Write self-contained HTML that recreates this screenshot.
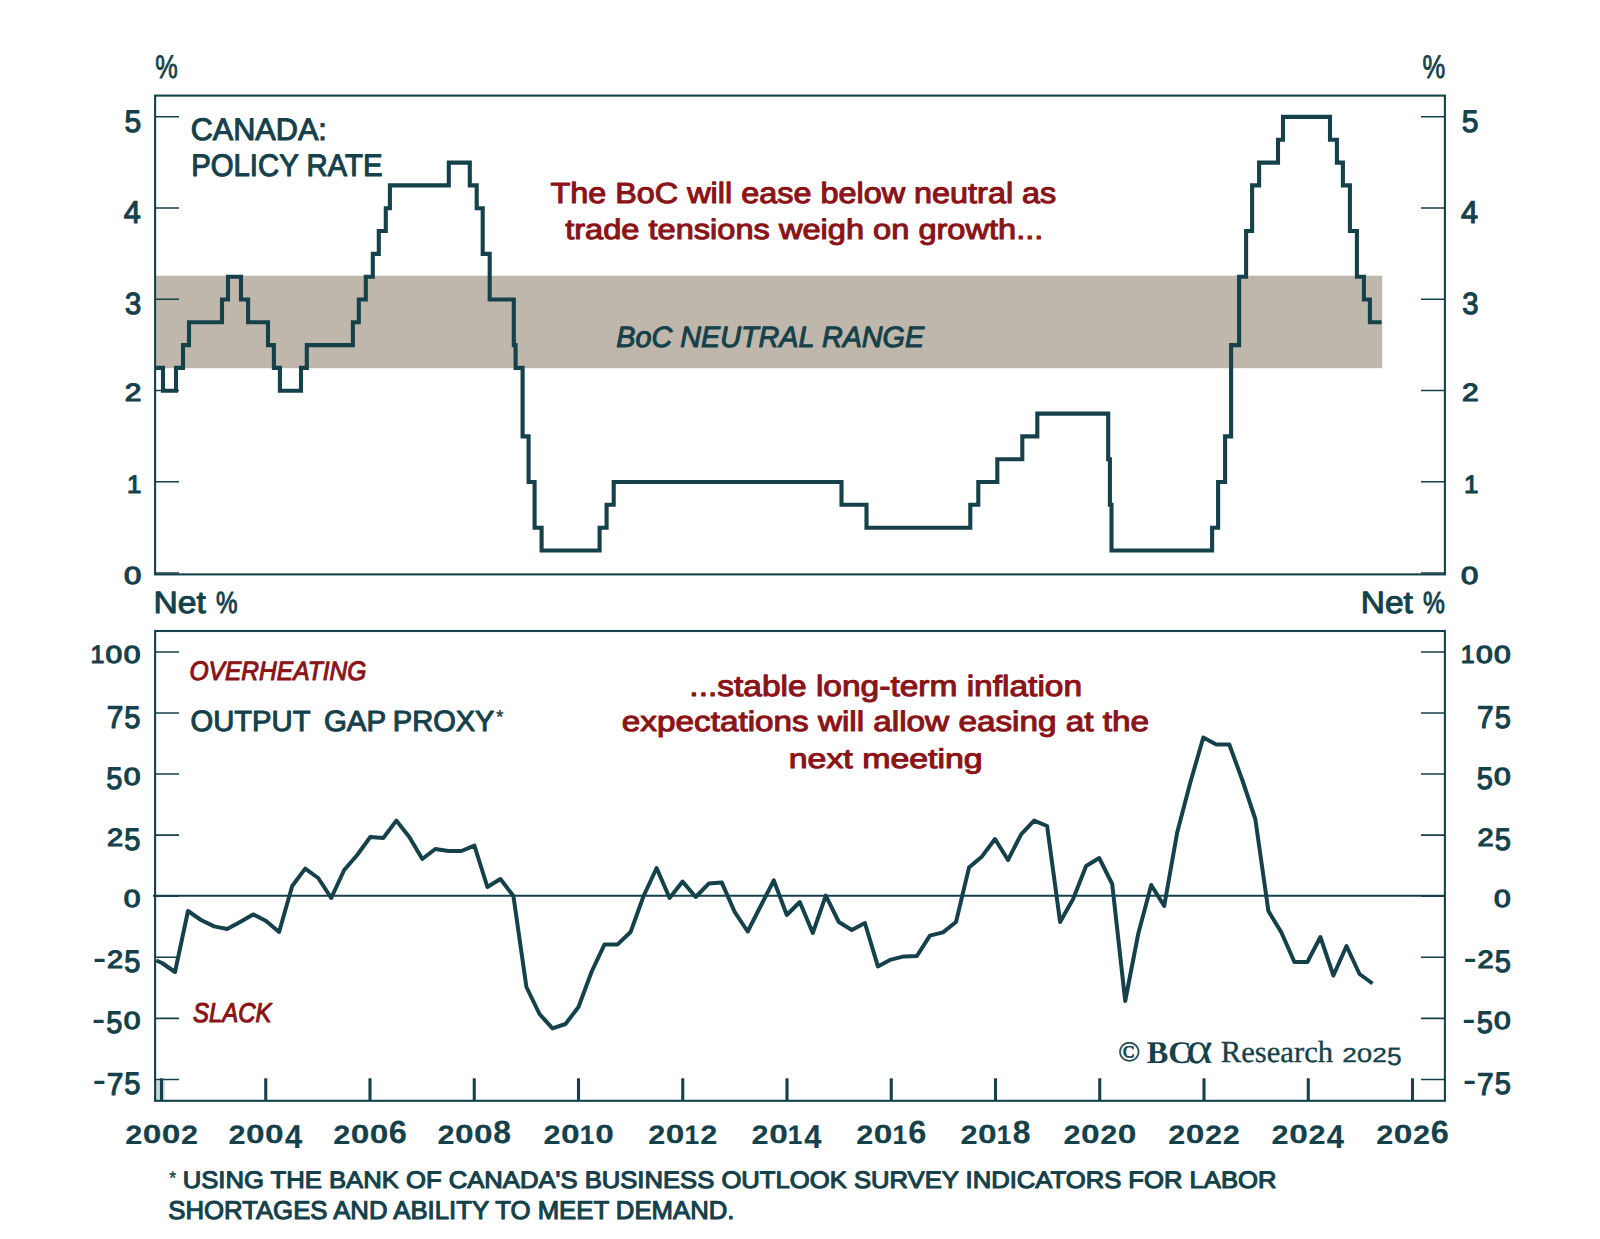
<!DOCTYPE html>
<html lang="en"><head><meta charset="utf-8"><title>Canada: Policy Rate and Output Gap Proxy</title>
<style>html,body{margin:0;padding:0;background:#fff}body{width:1600px;height:1239px;overflow:hidden;font-family:"Liberation Sans",sans-serif}svg text{font-kerning:auto;white-space:pre}</style>
</head><body>
<svg width="1600" height="1239" viewBox="0 0 1600 1239" style="display:block" text-rendering="geometricPrecision">
<rect width="1600" height="1239" fill="#ffffff"/>
<rect x="156.1" y="275.7" width="1226.1" height="92.5" fill="#bfb7ab"/>
<path d="M155.1 573.05H179.0 M1421.0 573.05H1444.9" stroke="#15414a" stroke-width="1.55" fill="none"/>
<path d="M155.1 481.78H179.0 M1421.0 481.78H1444.9" stroke="#15414a" stroke-width="1.55" fill="none"/>
<path d="M155.1 390.51H179.0 M1421.0 390.51H1444.9" stroke="#15414a" stroke-width="1.55" fill="none"/>
<path d="M155.1 299.24H179.0 M1421.0 299.24H1444.9" stroke="#15414a" stroke-width="1.55" fill="none"/>
<path d="M155.1 207.97H179.0 M1421.0 207.97H1444.9" stroke="#15414a" stroke-width="1.55" fill="none"/>
<path d="M155.1 116.70H179.0 M1421.0 116.70H1444.9" stroke="#15414a" stroke-width="1.55" fill="none"/>
<rect x="155.1" y="95.6" width="1289.8" height="478.8" fill="none" stroke="#15414a" stroke-width="2.1"/>
<path d="M156.1 367.9 L163.0 367.9 L163.0 390.8 L176.0 390.8 L176.0 367.9 L183.0 367.9 L183.0 345.1 L189.0 345.1 L189.0 322.3 L222.0 322.3 L222.0 299.5 L228.0 299.5 L228.0 276.7 L241.0 276.7 L241.0 299.5 L248.1 299.5 L248.1 322.3 L268.0 322.3 L268.0 345.1 L273.9 345.1 L273.9 367.9 L279.9 367.9 L279.9 390.8 L301.0 390.8 L301.0 367.9 L306.8 367.9 L306.8 345.1 L352.9 345.1 L352.9 322.3 L358.8 322.3 L358.8 299.5 L365.8 299.5 L365.8 276.7 L372.8 276.7 L372.8 253.9 L378.8 253.9 L378.8 231.0 L385.8 231.0 L385.8 208.2 L389.9 208.2 L389.9 185.4 L448.8 185.4 L448.8 162.6 L469.8 162.6 L469.8 185.4 L476.7 185.4 L476.7 208.2 L482.7 208.2 L482.7 253.9 L489.7 253.9 L489.7 299.5 L513.8 299.5 L513.8 345.1 L515.6 345.1 L515.6 367.9 L522.6 367.9 L522.6 436.4 L528.6 436.4 L528.6 482.0 L534.6 482.0 L534.6 527.7 L541.6 527.7 L541.6 550.5 L599.6 550.5 L599.6 527.7 L606.6 527.7 L606.6 504.8 L613.7 504.8 L613.7 482.0 L841.5 482.0 L841.5 504.8 L866.5 504.8 L866.5 527.7 L970.3 527.7 L970.3 504.8 L978.3 504.8 L978.3 482.0 L997.3 482.0 L997.3 459.2 L1022.3 459.2 L1022.3 436.4 L1037.3 436.4 L1037.3 413.6 L1108.2 413.6 L1108.2 459.2 L1109.9 459.2 L1109.9 504.8 L1111.5 504.8 L1111.5 550.5 L1212.1 550.5 L1212.1 527.7 L1218.1 527.7 L1218.1 482.0 L1225.1 482.0 L1225.1 436.4 L1231.1 436.4 L1231.1 345.1 L1239.1 345.1 L1239.1 276.7 L1246.1 276.7 L1246.1 231.0 L1252.1 231.0 L1252.1 185.4 L1259.1 185.4 L1259.1 162.6 L1278.0 162.6 L1278.0 139.8 L1283.0 139.8 L1283.0 116.9 L1330.0 116.9 L1330.0 139.8 L1336.9 139.8 L1336.9 162.6 L1342.9 162.6 L1342.9 185.4 L1349.9 185.4 L1349.9 231.0 L1356.9 231.0 L1356.9 276.7 L1363.9 276.7 L1363.9 299.5 L1369.9 299.5 L1369.9 322.3 L1381.6 322.3" fill="none" stroke="#15414a" stroke-width="4.1" stroke-linejoin="miter" stroke-linecap="butt"/>
<text font-family="'Liberation Sans', sans-serif" font-weight="normal" fill="#15414a" stroke="#15414a" stroke-width="1.15" stroke-linejoin="round"><tspan x="123.96" y="583.74" font-size="24.51" textLength="17.28" lengthAdjust="spacingAndGlyphs">0</tspan></text>
<text font-family="'Liberation Sans', sans-serif" font-weight="normal" fill="#15414a" stroke="#15414a" stroke-width="1.15" stroke-linejoin="round"><tspan x="1461.06" y="583.74" font-size="24.51" textLength="17.28" lengthAdjust="spacingAndGlyphs">0</tspan></text>
<text font-family="'Liberation Sans', sans-serif" font-weight="normal" fill="#15414a" stroke="#15414a" stroke-width="1.15" stroke-linejoin="round"><tspan x="126.91" y="492.70" font-size="25.22" textLength="14.38" lengthAdjust="spacingAndGlyphs">1</tspan></text>
<text font-family="'Liberation Sans', sans-serif" font-weight="normal" fill="#15414a" stroke="#15414a" stroke-width="1.15" stroke-linejoin="round"><tspan x="1464.01" y="492.70" font-size="25.22" textLength="14.38" lengthAdjust="spacingAndGlyphs">1</tspan></text>
<text font-family="'Liberation Sans', sans-serif" font-weight="normal" fill="#15414a" stroke="#15414a" stroke-width="1.15" stroke-linejoin="round"><tspan x="124.87" y="401.44" font-size="24.85" textLength="16.66" lengthAdjust="spacingAndGlyphs">2</tspan></text>
<text font-family="'Liberation Sans', sans-serif" font-weight="normal" fill="#15414a" stroke="#15414a" stroke-width="1.15" stroke-linejoin="round"><tspan x="1461.97" y="401.44" font-size="24.85" textLength="16.66" lengthAdjust="spacingAndGlyphs">2</tspan></text>
<text font-family="'Liberation Sans', sans-serif" font-weight="normal" fill="#15414a" stroke="#15414a" stroke-width="1.15" stroke-linejoin="round"><tspan x="125.06" y="314.21" font-size="30.65" textLength="16.25" lengthAdjust="spacingAndGlyphs">3</tspan></text>
<text font-family="'Liberation Sans', sans-serif" font-weight="normal" fill="#15414a" stroke="#15414a" stroke-width="1.15" stroke-linejoin="round"><tspan x="1462.16" y="314.21" font-size="30.65" textLength="16.25" lengthAdjust="spacingAndGlyphs">3</tspan></text>
<text font-family="'Liberation Sans', sans-serif" font-weight="normal" fill="#15414a" stroke="#15414a" stroke-width="1.15" stroke-linejoin="round"><tspan x="123.87" y="223.24" font-size="31.54" textLength="17.05" lengthAdjust="spacingAndGlyphs">4</tspan></text>
<text font-family="'Liberation Sans', sans-serif" font-weight="normal" fill="#15414a" stroke="#15414a" stroke-width="1.15" stroke-linejoin="round"><tspan x="1460.97" y="223.24" font-size="31.54" textLength="17.05" lengthAdjust="spacingAndGlyphs">4</tspan></text>
<text font-family="'Liberation Sans', sans-serif" font-weight="normal" fill="#15414a" stroke="#15414a" stroke-width="1.15" stroke-linejoin="round"><tspan x="124.57" y="131.67" font-size="31.10" textLength="16.72" lengthAdjust="spacingAndGlyphs">5</tspan></text>
<text font-family="'Liberation Sans', sans-serif" font-weight="normal" fill="#15414a" stroke="#15414a" stroke-width="1.15" stroke-linejoin="round"><tspan x="1461.67" y="131.67" font-size="31.10" textLength="16.72" lengthAdjust="spacingAndGlyphs">5</tspan></text>
<text transform="translate(155.31 78.45) scale(0.8436 1.0900)" font-family="'Liberation Sans', sans-serif" font-size="30" font-weight="normal" fill="#15414a" stroke="#15414a" stroke-width="0.72" stroke-linejoin="round">%</text>
<text transform="translate(1422.50 78.45) scale(0.8516 1.0900)" font-family="'Liberation Sans', sans-serif" font-size="30" font-weight="normal" fill="#15414a" stroke="#15414a" stroke-width="0.72" stroke-linejoin="round">%</text>
<text font-family="'Liberation Sans', sans-serif" font-weight="normal" fill="#15414a" stroke="#15414a" stroke-width="1.00" stroke-linejoin="round"><tspan x="153.41" y="613.30" font-size="31.01" textLength="52.32" lengthAdjust="spacingAndGlyphs">Net</tspan> <tspan x="215.97" y="613.30" font-size="30.57" textLength="21.53" lengthAdjust="spacingAndGlyphs">%</tspan></text>
<text font-family="'Liberation Sans', sans-serif" font-weight="normal" fill="#15414a" stroke="#15414a" stroke-width="1.00" stroke-linejoin="round"><tspan x="1360.82" y="613.30" font-size="31.01" textLength="52.11" lengthAdjust="spacingAndGlyphs">Net</tspan> <tspan x="1422.96" y="613.30" font-size="30.57" textLength="21.85" lengthAdjust="spacingAndGlyphs">%</tspan></text>
<text transform="translate(190.70 139.67) scale(1.0210 1.0375)" font-family="'Liberation Sans', sans-serif" font-size="30" font-weight="normal" fill="#15414a" stroke="#15414a" stroke-width="1.02" stroke-linejoin="round">CANADA:</text>
<text transform="translate(191.17 176.47) scale(0.9779 1.0375)" font-family="'Liberation Sans', sans-serif" font-size="30" font-weight="normal" fill="#15414a" stroke="#15414a" stroke-width="1.04" stroke-linejoin="round">POLICY RATE</text>
<text transform="translate(550.38 203.12) scale(1.0797 0.9705)" font-family="'Liberation Sans', sans-serif" font-size="30" font-weight="normal" fill="#8a1418" stroke="#8a1418" stroke-width="1.12" stroke-linejoin="round">The BoC will ease below neutral as</text>
<text transform="translate(565.18 238.93) scale(1.0861 0.9432)" font-family="'Liberation Sans', sans-serif" font-size="30" font-weight="normal" fill="#8a1418" stroke="#8a1418" stroke-width="1.13" stroke-linejoin="round">trade tensions weigh on growth...</text>
<text transform="translate(616.32 347.08) scale(0.9583 0.9775)" font-family="'Liberation Sans', sans-serif" font-size="30" font-weight="normal" font-style="italic" fill="#15414a" stroke="#15414a" stroke-width="1.08" stroke-linejoin="round">BoC NEUTRAL RANGE</text>
<rect x="156.0" y="1080.2" width="8.6" height="19.6" fill="#c6d8db"/>
<path d="M155.1 1079.42H179.0 M1421.0 1079.42H1444.9" stroke="#15414a" stroke-width="1.55" fill="none"/>
<path d="M155.1 1018.35H179.0 M1421.0 1018.35H1444.9" stroke="#15414a" stroke-width="1.55" fill="none"/>
<path d="M155.1 957.27H179.0 M1421.0 957.27H1444.9" stroke="#15414a" stroke-width="1.55" fill="none"/>
<path d="M155.1 896.20H179.0 M1421.0 896.20H1444.9" stroke="#15414a" stroke-width="1.55" fill="none"/>
<path d="M155.1 835.13H179.0 M1421.0 835.13H1444.9" stroke="#15414a" stroke-width="1.55" fill="none"/>
<path d="M155.1 774.06H179.0 M1421.0 774.06H1444.9" stroke="#15414a" stroke-width="1.55" fill="none"/>
<path d="M155.1 712.98H179.0 M1421.0 712.98H1444.9" stroke="#15414a" stroke-width="1.55" fill="none"/>
<path d="M155.1 651.91H179.0 M1421.0 651.91H1444.9" stroke="#15414a" stroke-width="1.55" fill="none"/>
<path d="M153 895.80H1444.9" stroke="#15414a" stroke-width="1.9" fill="none"/>
<path d="M161.50 1078.3V1100.8" stroke="#15414a" stroke-width="3.1" fill="none"/>
<path d="M265.75 1078.3V1100.8" stroke="#15414a" stroke-width="3.1" fill="none"/>
<path d="M370.00 1078.3V1100.8" stroke="#15414a" stroke-width="3.1" fill="none"/>
<path d="M474.25 1078.3V1100.8" stroke="#15414a" stroke-width="3.1" fill="none"/>
<path d="M578.50 1078.3V1100.8" stroke="#15414a" stroke-width="3.1" fill="none"/>
<path d="M682.75 1078.3V1100.8" stroke="#15414a" stroke-width="3.1" fill="none"/>
<path d="M787.00 1078.3V1100.8" stroke="#15414a" stroke-width="3.1" fill="none"/>
<path d="M891.25 1078.3V1100.8" stroke="#15414a" stroke-width="3.1" fill="none"/>
<path d="M995.50 1078.3V1100.8" stroke="#15414a" stroke-width="3.1" fill="none"/>
<path d="M1099.75 1078.3V1100.8" stroke="#15414a" stroke-width="3.1" fill="none"/>
<path d="M1204.00 1078.3V1100.8" stroke="#15414a" stroke-width="3.1" fill="none"/>
<path d="M1308.25 1078.3V1100.8" stroke="#15414a" stroke-width="3.1" fill="none"/>
<path d="M1412.50 1078.3V1100.8" stroke="#15414a" stroke-width="3.1" fill="none"/>
<rect x="155.1" y="631.0" width="1289.8" height="469.8" fill="none" stroke="#15414a" stroke-width="2.1"/>
<path d="M156.3 960.5 L162.0 963.0 L175.0 972.0 L188.0 911.0 L201.0 920.0 L214.1 926.4 L227.1 929.0 L240.1 922.0 L253.1 914.4 L266.1 921.0 L279.1 932.0 L292.2 886.0 L305.2 868.6 L318.2 878.0 L331.2 898.0 L344.2 870.0 L357.2 855.0 L370.3 837.0 L383.3 838.0 L396.3 820.6 L409.3 837.0 L422.3 859.0 L435.3 849.0 L448.4 851.0 L461.4 851.0 L474.4 845.6 L487.4 887.0 L500.4 879.0 L513.4 896.0 L526.4 987.0 L539.5 1014.0 L552.5 1028.4 L565.5 1024.0 L578.5 1007.0 L591.5 972.0 L604.5 944.4 L617.6 944.4 L630.6 932.0 L643.6 896.0 L656.6 868.0 L669.6 898.0 L682.6 881.6 L695.7 897.0 L708.7 883.6 L721.7 882.4 L734.7 912.0 L747.7 931.5 L760.7 906.0 L773.8 880.4 L786.8 915.0 L799.8 902.0 L812.8 933.0 L825.8 895.6 L838.8 922.0 L851.8 930.0 L864.9 923.0 L877.9 966.4 L890.9 959.6 L903.9 956.4 L916.9 956.0 L929.9 935.6 L943.0 932.4 L956.0 922.0 L969.0 867.6 L982.0 856.4 L995.0 839.0 L1008.0 860.0 L1021.1 834.4 L1034.1 820.6 L1047.1 826.0 L1060.1 922.0 L1073.1 899.0 L1086.1 866.0 L1099.2 858.0 L1112.2 884.0 L1125.2 1001.0 L1138.2 934.0 L1151.2 885.0 L1164.2 906.0 L1177.2 832.5 L1190.3 782.5 L1203.3 737.5 L1216.3 744.5 L1229.3 744.5 L1242.3 780.0 L1255.3 819.0 L1268.4 911.0 L1281.4 932.5 L1294.4 962.0 L1307.4 962.0 L1320.4 937.0 L1333.4 975.5 L1346.5 946.0 L1359.5 974.0 L1372.5 983.5" fill="none" stroke="#15414a" stroke-width="4.0" stroke-linejoin="round" stroke-linecap="butt"/>
<text font-family="'Liberation Sans', sans-serif" font-weight="normal" fill="#15414a" stroke="#15414a" stroke-width="1.15" stroke-linejoin="round"><tspan x="93.42" y="1089.96" font-size="28.80" textLength="11.66" lengthAdjust="spacingAndGlyphs">-</tspan><tspan x="106.64" y="1094.59" font-size="31.54" textLength="16.63" lengthAdjust="spacingAndGlyphs">7</tspan><tspan x="124.27" y="1094.29" font-size="31.10" textLength="16.17" lengthAdjust="spacingAndGlyphs">5</tspan></text>
<text font-family="'Liberation Sans', sans-serif" font-weight="normal" fill="#15414a" stroke="#15414a" stroke-width="1.15" stroke-linejoin="round"><tspan x="1463.82" y="1089.96" font-size="28.80" textLength="11.66" lengthAdjust="spacingAndGlyphs">-</tspan><tspan x="1477.04" y="1094.59" font-size="31.54" textLength="16.63" lengthAdjust="spacingAndGlyphs">7</tspan><tspan x="1494.67" y="1094.29" font-size="31.10" textLength="16.17" lengthAdjust="spacingAndGlyphs">5</tspan></text>
<text font-family="'Liberation Sans', sans-serif" font-weight="normal" fill="#15414a" stroke="#15414a" stroke-width="1.15" stroke-linejoin="round"><tspan x="92.65" y="1028.89" font-size="28.80" textLength="11.66" lengthAdjust="spacingAndGlyphs">-</tspan><tspan x="106.23" y="1033.21" font-size="31.10" textLength="16.17" lengthAdjust="spacingAndGlyphs">5</tspan><tspan x="123.68" y="1028.93" font-size="24.51" textLength="16.72" lengthAdjust="spacingAndGlyphs">0</tspan></text>
<text font-family="'Liberation Sans', sans-serif" font-weight="normal" fill="#15414a" stroke="#15414a" stroke-width="1.15" stroke-linejoin="round"><tspan x="1463.05" y="1028.89" font-size="28.80" textLength="11.66" lengthAdjust="spacingAndGlyphs">-</tspan><tspan x="1476.63" y="1033.21" font-size="31.10" textLength="16.17" lengthAdjust="spacingAndGlyphs">5</tspan><tspan x="1494.08" y="1028.93" font-size="24.51" textLength="16.72" lengthAdjust="spacingAndGlyphs">0</tspan></text>
<text font-family="'Liberation Sans', sans-serif" font-weight="normal" fill="#15414a" stroke="#15414a" stroke-width="1.15" stroke-linejoin="round"><tspan x="93.81" y="967.81" font-size="28.80" textLength="11.66" lengthAdjust="spacingAndGlyphs">-</tspan><tspan x="107.10" y="968.10" font-size="24.85" textLength="16.12" lengthAdjust="spacingAndGlyphs">2</tspan><tspan x="124.27" y="972.14" font-size="31.10" textLength="16.17" lengthAdjust="spacingAndGlyphs">5</tspan></text>
<text font-family="'Liberation Sans', sans-serif" font-weight="normal" fill="#15414a" stroke="#15414a" stroke-width="1.15" stroke-linejoin="round"><tspan x="1464.21" y="967.81" font-size="28.80" textLength="11.66" lengthAdjust="spacingAndGlyphs">-</tspan><tspan x="1477.50" y="968.10" font-size="24.85" textLength="16.12" lengthAdjust="spacingAndGlyphs">2</tspan><tspan x="1494.67" y="972.14" font-size="31.10" textLength="16.17" lengthAdjust="spacingAndGlyphs">5</tspan></text>
<text font-family="'Liberation Sans', sans-serif" font-weight="normal" fill="#15414a" stroke="#15414a" stroke-width="1.15" stroke-linejoin="round"><tspan x="123.68" y="906.79" font-size="24.51" textLength="16.72" lengthAdjust="spacingAndGlyphs">0</tspan></text>
<text font-family="'Liberation Sans', sans-serif" font-weight="normal" fill="#15414a" stroke="#15414a" stroke-width="1.15" stroke-linejoin="round"><tspan x="1494.08" y="906.79" font-size="24.51" textLength="16.72" lengthAdjust="spacingAndGlyphs">0</tspan></text>
<text font-family="'Liberation Sans', sans-serif" font-weight="normal" fill="#15414a" stroke="#15414a" stroke-width="1.15" stroke-linejoin="round"><tspan x="107.10" y="845.95" font-size="24.85" textLength="16.12" lengthAdjust="spacingAndGlyphs">2</tspan><tspan x="124.27" y="850.00" font-size="31.10" textLength="16.17" lengthAdjust="spacingAndGlyphs">5</tspan></text>
<text font-family="'Liberation Sans', sans-serif" font-weight="normal" fill="#15414a" stroke="#15414a" stroke-width="1.15" stroke-linejoin="round"><tspan x="1477.50" y="845.95" font-size="24.85" textLength="16.12" lengthAdjust="spacingAndGlyphs">2</tspan><tspan x="1494.67" y="850.00" font-size="31.10" textLength="16.17" lengthAdjust="spacingAndGlyphs">5</tspan></text>
<text font-family="'Liberation Sans', sans-serif" font-weight="normal" fill="#15414a" stroke="#15414a" stroke-width="1.15" stroke-linejoin="round"><tspan x="106.23" y="788.92" font-size="31.10" textLength="16.17" lengthAdjust="spacingAndGlyphs">5</tspan><tspan x="123.68" y="784.64" font-size="24.51" textLength="16.72" lengthAdjust="spacingAndGlyphs">0</tspan></text>
<text font-family="'Liberation Sans', sans-serif" font-weight="normal" fill="#15414a" stroke="#15414a" stroke-width="1.15" stroke-linejoin="round"><tspan x="1476.63" y="788.92" font-size="31.10" textLength="16.17" lengthAdjust="spacingAndGlyphs">5</tspan><tspan x="1494.08" y="784.64" font-size="24.51" textLength="16.72" lengthAdjust="spacingAndGlyphs">0</tspan></text>
<text font-family="'Liberation Sans', sans-serif" font-weight="normal" fill="#15414a" stroke="#15414a" stroke-width="1.15" stroke-linejoin="round"><tspan x="106.64" y="728.15" font-size="31.54" textLength="16.63" lengthAdjust="spacingAndGlyphs">7</tspan><tspan x="124.27" y="727.85" font-size="31.10" textLength="16.17" lengthAdjust="spacingAndGlyphs">5</tspan></text>
<text font-family="'Liberation Sans', sans-serif" font-weight="normal" fill="#15414a" stroke="#15414a" stroke-width="1.15" stroke-linejoin="round"><tspan x="1477.04" y="728.15" font-size="31.54" textLength="16.63" lengthAdjust="spacingAndGlyphs">7</tspan><tspan x="1494.67" y="727.85" font-size="31.10" textLength="16.17" lengthAdjust="spacingAndGlyphs">5</tspan></text>
<text font-family="'Liberation Sans', sans-serif" font-weight="normal" fill="#15414a" stroke="#15414a" stroke-width="1.15" stroke-linejoin="round"><tspan x="90.46" y="662.74" font-size="25.22" textLength="13.91" lengthAdjust="spacingAndGlyphs">1</tspan><tspan x="105.64" y="662.50" font-size="24.51" textLength="16.72" lengthAdjust="spacingAndGlyphs">0</tspan><tspan x="123.68" y="662.50" font-size="24.51" textLength="16.72" lengthAdjust="spacingAndGlyphs">0</tspan></text>
<text font-family="'Liberation Sans', sans-serif" font-weight="normal" fill="#15414a" stroke="#15414a" stroke-width="1.15" stroke-linejoin="round"><tspan x="1460.86" y="662.74" font-size="25.22" textLength="13.91" lengthAdjust="spacingAndGlyphs">1</tspan><tspan x="1476.04" y="662.50" font-size="24.51" textLength="16.72" lengthAdjust="spacingAndGlyphs">0</tspan><tspan x="1494.08" y="662.50" font-size="24.51" textLength="16.72" lengthAdjust="spacingAndGlyphs">0</tspan></text>
<text font-family="'Liberation Sans', sans-serif" font-weight="bold" fill="#15414a" stroke="#15414a" stroke-width="0.15" stroke-linejoin="round"><tspan x="125.17" y="1143.72" font-size="26.42" textLength="17.02" lengthAdjust="spacingAndGlyphs">2</tspan><tspan x="142.71" y="1143.47" font-size="26.06" textLength="18.64" lengthAdjust="spacingAndGlyphs">0</tspan><tspan x="161.71" y="1143.47" font-size="26.06" textLength="18.64" lengthAdjust="spacingAndGlyphs">0</tspan><tspan x="180.97" y="1143.72" font-size="26.42" textLength="17.02" lengthAdjust="spacingAndGlyphs">2</tspan></text>
<text font-family="'Liberation Sans', sans-serif" font-weight="bold" fill="#15414a" stroke="#15414a" stroke-width="0.15" stroke-linejoin="round"><tspan x="228.52" y="1143.72" font-size="26.42" textLength="17.02" lengthAdjust="spacingAndGlyphs">2</tspan><tspan x="246.05" y="1143.47" font-size="26.06" textLength="18.64" lengthAdjust="spacingAndGlyphs">0</tspan><tspan x="265.05" y="1143.47" font-size="26.06" textLength="18.64" lengthAdjust="spacingAndGlyphs">0</tspan><tspan x="284.91" y="1148.10" font-size="33.17" textLength="17.17" lengthAdjust="spacingAndGlyphs">4</tspan></text>
<text font-family="'Liberation Sans', sans-serif" font-weight="bold" fill="#15414a" stroke="#15414a" stroke-width="0.15" stroke-linejoin="round"><tspan x="333.17" y="1143.72" font-size="26.42" textLength="17.02" lengthAdjust="spacingAndGlyphs">2</tspan><tspan x="350.70" y="1143.47" font-size="26.06" textLength="18.64" lengthAdjust="spacingAndGlyphs">0</tspan><tspan x="369.70" y="1143.47" font-size="26.06" textLength="18.64" lengthAdjust="spacingAndGlyphs">0</tspan><tspan x="388.84" y="1143.41" font-size="32.23" textLength="18.10" lengthAdjust="spacingAndGlyphs">6</tspan></text>
<text font-family="'Liberation Sans', sans-serif" font-weight="bold" fill="#15414a" stroke="#15414a" stroke-width="0.15" stroke-linejoin="round"><tspan x="437.42" y="1143.72" font-size="26.42" textLength="17.02" lengthAdjust="spacingAndGlyphs">2</tspan><tspan x="454.95" y="1143.47" font-size="26.06" textLength="18.64" lengthAdjust="spacingAndGlyphs">0</tspan><tspan x="473.95" y="1143.47" font-size="26.06" textLength="18.64" lengthAdjust="spacingAndGlyphs">0</tspan><tspan x="493.27" y="1143.41" font-size="32.23" textLength="17.73" lengthAdjust="spacingAndGlyphs">8</tspan></text>
<text font-family="'Liberation Sans', sans-serif" font-weight="bold" fill="#15414a" stroke="#15414a" stroke-width="0.15" stroke-linejoin="round"><tspan x="543.43" y="1143.72" font-size="26.42" textLength="17.02" lengthAdjust="spacingAndGlyphs">2</tspan><tspan x="560.96" y="1143.47" font-size="26.06" textLength="18.64" lengthAdjust="spacingAndGlyphs">0</tspan><tspan x="579.64" y="1143.72" font-size="26.82" textLength="14.60" lengthAdjust="spacingAndGlyphs">1</tspan><tspan x="595.25" y="1143.47" font-size="26.06" textLength="18.64" lengthAdjust="spacingAndGlyphs">0</tspan></text>
<text font-family="'Liberation Sans', sans-serif" font-weight="bold" fill="#15414a" stroke="#15414a" stroke-width="0.15" stroke-linejoin="round"><tspan x="648.28" y="1143.72" font-size="26.42" textLength="17.02" lengthAdjust="spacingAndGlyphs">2</tspan><tspan x="665.82" y="1143.47" font-size="26.06" textLength="18.64" lengthAdjust="spacingAndGlyphs">0</tspan><tspan x="684.49" y="1143.72" font-size="26.82" textLength="14.60" lengthAdjust="spacingAndGlyphs">1</tspan><tspan x="700.36" y="1143.72" font-size="26.42" textLength="17.02" lengthAdjust="spacingAndGlyphs">2</tspan></text>
<text font-family="'Liberation Sans', sans-serif" font-weight="bold" fill="#15414a" stroke="#15414a" stroke-width="0.15" stroke-linejoin="round"><tspan x="751.63" y="1143.72" font-size="26.42" textLength="17.02" lengthAdjust="spacingAndGlyphs">2</tspan><tspan x="769.16" y="1143.47" font-size="26.06" textLength="18.64" lengthAdjust="spacingAndGlyphs">0</tspan><tspan x="787.83" y="1143.72" font-size="26.82" textLength="14.60" lengthAdjust="spacingAndGlyphs">1</tspan><tspan x="804.30" y="1148.10" font-size="33.17" textLength="17.17" lengthAdjust="spacingAndGlyphs">4</tspan></text>
<text font-family="'Liberation Sans', sans-serif" font-weight="bold" fill="#15414a" stroke="#15414a" stroke-width="0.15" stroke-linejoin="round"><tspan x="856.28" y="1143.72" font-size="26.42" textLength="17.02" lengthAdjust="spacingAndGlyphs">2</tspan><tspan x="873.81" y="1143.47" font-size="26.06" textLength="18.64" lengthAdjust="spacingAndGlyphs">0</tspan><tspan x="892.49" y="1143.72" font-size="26.82" textLength="14.60" lengthAdjust="spacingAndGlyphs">1</tspan><tspan x="908.23" y="1143.41" font-size="32.23" textLength="18.10" lengthAdjust="spacingAndGlyphs">6</tspan></text>
<text font-family="'Liberation Sans', sans-serif" font-weight="bold" fill="#15414a" stroke="#15414a" stroke-width="0.15" stroke-linejoin="round"><tspan x="960.53" y="1143.72" font-size="26.42" textLength="17.02" lengthAdjust="spacingAndGlyphs">2</tspan><tspan x="978.06" y="1143.47" font-size="26.06" textLength="18.64" lengthAdjust="spacingAndGlyphs">0</tspan><tspan x="996.74" y="1143.72" font-size="26.82" textLength="14.60" lengthAdjust="spacingAndGlyphs">1</tspan><tspan x="1012.66" y="1143.41" font-size="32.23" textLength="17.73" lengthAdjust="spacingAndGlyphs">8</tspan></text>
<text font-family="'Liberation Sans', sans-serif" font-weight="bold" fill="#15414a" stroke="#15414a" stroke-width="0.15" stroke-linejoin="round"><tspan x="1063.42" y="1143.72" font-size="26.42" textLength="17.02" lengthAdjust="spacingAndGlyphs">2</tspan><tspan x="1080.96" y="1143.47" font-size="26.06" textLength="18.64" lengthAdjust="spacingAndGlyphs">0</tspan><tspan x="1100.22" y="1143.72" font-size="26.42" textLength="17.02" lengthAdjust="spacingAndGlyphs">2</tspan><tspan x="1117.75" y="1143.47" font-size="26.06" textLength="18.64" lengthAdjust="spacingAndGlyphs">0</tspan></text>
<text font-family="'Liberation Sans', sans-serif" font-weight="bold" fill="#15414a" stroke="#15414a" stroke-width="0.15" stroke-linejoin="round"><tspan x="1168.28" y="1143.72" font-size="26.42" textLength="17.02" lengthAdjust="spacingAndGlyphs">2</tspan><tspan x="1185.81" y="1143.47" font-size="26.06" textLength="18.64" lengthAdjust="spacingAndGlyphs">0</tspan><tspan x="1205.08" y="1143.72" font-size="26.42" textLength="17.02" lengthAdjust="spacingAndGlyphs">2</tspan><tspan x="1222.87" y="1143.72" font-size="26.42" textLength="17.02" lengthAdjust="spacingAndGlyphs">2</tspan></text>
<text font-family="'Liberation Sans', sans-serif" font-weight="bold" fill="#15414a" stroke="#15414a" stroke-width="0.15" stroke-linejoin="round"><tspan x="1271.62" y="1143.72" font-size="26.42" textLength="17.02" lengthAdjust="spacingAndGlyphs">2</tspan><tspan x="1289.15" y="1143.47" font-size="26.06" textLength="18.64" lengthAdjust="spacingAndGlyphs">0</tspan><tspan x="1308.42" y="1143.72" font-size="26.42" textLength="17.02" lengthAdjust="spacingAndGlyphs">2</tspan><tspan x="1326.81" y="1148.10" font-size="33.17" textLength="17.17" lengthAdjust="spacingAndGlyphs">4</tspan></text>
<text font-family="'Liberation Sans', sans-serif" font-weight="bold" fill="#15414a" stroke="#15414a" stroke-width="0.15" stroke-linejoin="round"><tspan x="1376.27" y="1143.72" font-size="26.42" textLength="17.02" lengthAdjust="spacingAndGlyphs">2</tspan><tspan x="1393.81" y="1143.47" font-size="26.06" textLength="18.64" lengthAdjust="spacingAndGlyphs">0</tspan><tspan x="1413.07" y="1143.72" font-size="26.42" textLength="17.02" lengthAdjust="spacingAndGlyphs">2</tspan><tspan x="1430.74" y="1143.41" font-size="32.23" textLength="18.10" lengthAdjust="spacingAndGlyphs">6</tspan></text>
<text transform="translate(189.51 679.68) scale(0.8182 0.8875)" font-family="'Liberation Sans', sans-serif" font-size="30" font-weight="normal" font-style="italic" fill="#8a1418" stroke="#8a1418" stroke-width="1.23" stroke-linejoin="round">OVERHEATING</text>
<text font-family="'Liberation Sans', sans-serif" font-weight="normal" fill="#15414a" stroke="#15414a" stroke-width="1.05" stroke-linejoin="round"><tspan x="190.56" y="730.77" font-size="29.21" textLength="119.92" lengthAdjust="spacingAndGlyphs">OUTPUT</tspan> <tspan x="323.95" y="730.77" font-size="29.21" textLength="62.21" lengthAdjust="spacingAndGlyphs">GAP</tspan> <tspan x="392.80" y="730.77" font-size="29.21" textLength="101.67" lengthAdjust="spacingAndGlyphs">PROXY</tspan><tspan x="496.37" y="723.29" font-size="18.61" textLength="7.05" lengthAdjust="spacingAndGlyphs" stroke-width="0.50">*</tspan></text>
<text transform="translate(193.12 1021.77) scale(0.7965 0.9025)" font-family="'Liberation Sans', sans-serif" font-size="30" font-weight="normal" font-style="italic" fill="#8a1418" stroke="#8a1418" stroke-width="1.24" stroke-linejoin="round">SLACK</text>
<text transform="translate(689.34 695.82) scale(1.1163 0.9705)" font-family="'Liberation Sans', sans-serif" font-size="30" font-weight="normal" fill="#8a1418" stroke="#8a1418" stroke-width="1.10" stroke-linejoin="round">...stable long-term inflation</text>
<text transform="translate(621.87 731.32) scale(1.1089 0.9432)" font-family="'Liberation Sans', sans-serif" font-size="30" font-weight="normal" fill="#8a1418" stroke="#8a1418" stroke-width="1.12" stroke-linejoin="round">expectations will allow easing at the</text>
<text transform="translate(788.72 768.32) scale(1.1294 0.9114)" font-family="'Liberation Sans', sans-serif" font-size="30" font-weight="normal" fill="#8a1418" stroke="#8a1418" stroke-width="1.13" stroke-linejoin="round">next meeting</text>
<text font-family="'Liberation Serif', serif" font-weight="normal" fill="#15414a" stroke="#15414a" stroke-width="0.35" stroke-linejoin="round"><tspan x="1118.35" y="1061.42" font-size="28.09" textLength="21.90" lengthAdjust="spacingAndGlyphs" stroke-width="0.60">©</tspan> <tspan x="1146.68" y="1062.59" font-size="31.50" textLength="44.95" lengthAdjust="spacingAndGlyphs" stroke-width="0.01" font-weight="bold">BC</tspan><tspan x="1186.34" y="1062.51" font-size="43.96" textLength="26.30" lengthAdjust="spacingAndGlyphs" stroke-width="0.10">α</tspan> <tspan x="1220.76" y="1062.23" font-size="30.51" textLength="112.37" lengthAdjust="spacingAndGlyphs">Research</tspan></text>
<text font-family="'Liberation Sans', sans-serif" font-weight="normal" fill="#15414a" stroke="#15414a" stroke-width="0.35" stroke-linejoin="round"><tspan x="1342.25" y="1062.03" font-size="20.12" textLength="14.62" lengthAdjust="spacingAndGlyphs">2</tspan><tspan x="1357.01" y="1061.83" font-size="19.84" textLength="15.10" lengthAdjust="spacingAndGlyphs">0</tspan><tspan x="1372.24" y="1062.03" font-size="20.12" textLength="14.62" lengthAdjust="spacingAndGlyphs">2</tspan><tspan x="1387.00" y="1065.16" font-size="24.99" textLength="14.63" lengthAdjust="spacingAndGlyphs">5</tspan></text>
<text font-family="'Liberation Sans', sans-serif" font-weight="normal" fill="#15414a" stroke="#15414a" stroke-width="1.10" stroke-linejoin="round"><tspan x="169.22" y="1184.05" font-size="18.33" textLength="6.94" lengthAdjust="spacingAndGlyphs" stroke-width="0.40">*</tspan> <tspan x="182.76" y="1188.45" font-size="23.80" textLength="1093.78" lengthAdjust="spacingAndGlyphs">USING THE BANK OF CANADA'S BUSINESS OUTLOOK SURVEY INDICATORS FOR LABOR</tspan></text>
<text transform="translate(168.29 1219.45) scale(0.8576 0.8550)" font-family="'Liberation Sans', sans-serif" font-size="30" font-weight="normal" fill="#15414a" stroke="#15414a" stroke-width="1.28" stroke-linejoin="round">SHORTAGES AND ABILITY TO MEET DEMAND.</text>
</svg>
</body></html>
